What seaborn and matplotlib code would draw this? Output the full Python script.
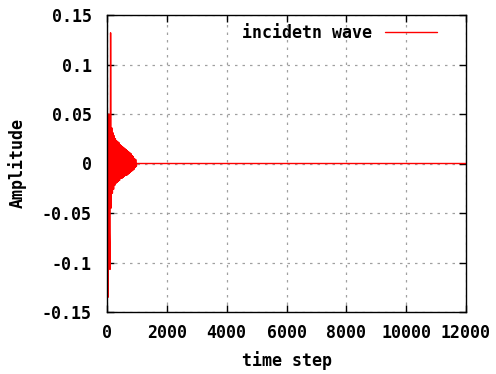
import matplotlib
matplotlib.use("Agg")
import matplotlib.pyplot as plt
import seaborn as sns
import pandas as pd

# Incident wave record: amplitude sampled every 20 time steps during the burst,
# then flat at zero to the end of the run.
time_step = [0, 20, 40, 60, 80, 100, 120, 140, 160, 180,
             200, 220, 240, 260, 280, 300, 320, 340, 360, 380,
             400, 420, 440, 460, 480, 500, 520, 540, 560, 580,
             600, 620, 640, 660, 680, 700, 720, 740, 760, 780,
             800, 820, 840, 860, 880, 900, 920, 940, 960, 980,
             1000, 12000]
amplitude = [0.05, -0.09, -0.135, 0.05, -0.07, -0.107, 0.132, -0.045, 0.036, -0.03,
             0.031, -0.026, 0.028, -0.022, 0.025, -0.02, 0.023, -0.019, 0.022, -0.018,
             0.021, -0.017, 0.019, -0.015, 0.018, -0.015, 0.017, -0.014, 0.016, -0.013,
             0.015, -0.012, 0.014, -0.012, 0.013, -0.011, 0.012, -0.010, 0.011, -0.009,
             0.010, -0.008, 0.008, -0.007, 0.007, -0.006, 0.005, -0.004, 0.004, -0.003,
             0.0, 0.0]

x_ticks = [0, 2000, 4000, 6000, 8000, 10000, 12000]
x_tick_labels = ["0", "2000", "4000", "6000", "8000", "10000", "12000"]
y_ticks = [-0.15, -0.1, -0.05, 0, 0.05, 0.1, 0.15]
y_tick_labels = ["-0.15", "-0.1", "-0.05", "0", "0.05", "0.1", "0.15"]

df = pd.DataFrame({"time step": time_step, "Amplitude": amplitude})

sns.set_style("white")
plt.rcParams["font.family"] = ["DejaVu Sans Mono", "DejaVu Sans"]
plt.rcParams["font.weight"] = "bold"
plt.rcParams["text.color"] = "black"
plt.rcParams["axes.labelcolor"] = "black"
plt.rcParams["xtick.color"] = "black"
plt.rcParams["ytick.color"] = "black"

fs = 12

fig = plt.figure(figsize=(4.96, 3.74), dpi=100)
ax = fig.add_axes([107 / 496, 1 - 312 / 374, (466 - 107) / 496, (312 - 15) / 374])

sns.lineplot(data=df, x="time step", y="Amplitude", ax=ax, color="#ff0000",
             linewidth=1.0, sort=False, estimator=None, label="incidetn wave")

ax.set_xlim(0, 12000)
ax.set_ylim(-0.15, 0.15)
ax.set_xticks(x_ticks)
ax.set_xticklabels(x_tick_labels)
ax.set_yticks(y_ticks)
ax.set_yticklabels(y_tick_labels)

ax.grid(True, color="#a0a0a0", linestyle=(0, (2, 4)), linewidth=0.9)
ax.set_axisbelow(True)
for sp in ax.spines.values():
    sp.set_color("black")
    sp.set_linewidth(1.0)

ax.tick_params(axis="y", which="major", direction="in", length=5, width=1,
               left=True, right=True, labelsize=fs, pad=11)
ax.tick_params(axis="x", which="major", direction="in", length=5, width=1,
               bottom=True, top=True, labelsize=fs, pad=9)

ax.set_xlabel("time step", fontsize=fs, fontweight="bold", labelpad=6)
ax.set_ylabel("Amplitude", fontsize=fs, fontweight="bold", labelpad=11)

leg = ax.legend(loc="upper right", frameon=False, fontsize=fs,
                handlelength=3.1, handletextpad=0.8, borderaxespad=0.25,
                borderpad=0.3, markerfirst=False,
                bbox_to_anchor=(1 - 20 / 359, 1.0))
for h in leg.get_lines():
    h.set_linewidth(1.0)

fig.savefig("out.png", dpi=100)
